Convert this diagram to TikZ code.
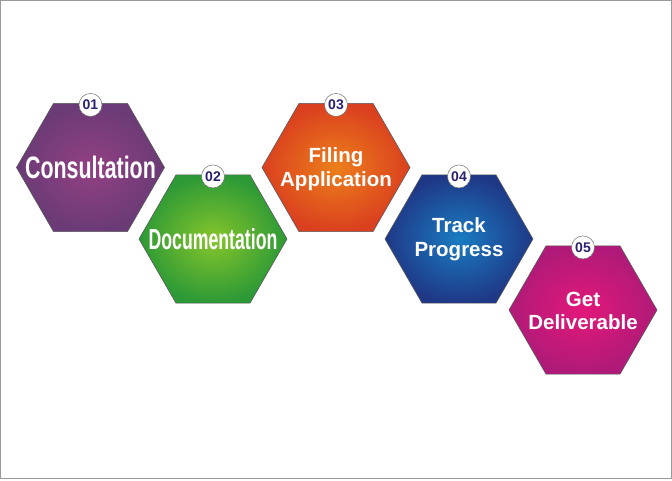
\documentclass[tikz,border=0pt]{standalone}
\usepackage{fontspec}
\setmainfont{Liberation Sans}
\usetikzlibrary{shapes.geometric}
\definecolor{numnavy}{HTML}{2A2170}
\definecolor{p1in}{HTML}{934083}
\definecolor{p1out}{HTML}{6A3B76}
\definecolor{g2in}{HTML}{86C52B}
\definecolor{g2out}{HTML}{2C9936}
\definecolor{o3in}{HTML}{EC7F1B}
\definecolor{o3out}{HTML}{DA401F}
\definecolor{b4in}{HTML}{1A7CC2}
\definecolor{b4out}{HTML}{1F3886}
\definecolor{m5in}{HTML}{E2187A}
\definecolor{m5out}{HTML}{AF1A78}
\tikzset{
  hexbox/.style={regular polygon, regular polygon sides=6, minimum size=148pt,
    inner sep=0pt, outer sep=0pt, draw=black!65, line width=0.6pt},
  hextext/.style={text=white, font=\bfseries\fontsize{20.5}{23.5}\selectfont,
    align=center, inner sep=0pt},
  numcirc/.style={circle, fill=white, draw=black!55, line width=0.5pt,
    minimum size=23pt, inner sep=0pt, text=numnavy,
    font=\bfseries\fontsize{14}{14}\selectfont}
}
\begin{document}
\begin{tikzpicture}[x=1pt, y=-1pt]
\useasboundingbox (0,0) rectangle (672,480);
\draw[black!40, line width=1pt] (0.5,0.5) rectangle (671,478.5);
% hexagons
\node[hexbox, inner color=p1in, outer color=p1out] (h1) at (90.5,167.5) {};
\node[hexbox, inner color=g2in, outer color=g2out] (h2) at (213,239) {};
\node[hexbox, inner color=o3in, outer color=o3out] (h3) at (336,167.5) {};
\node[hexbox, inner color=b4in, outer color=b4out] (h4) at (459,239) {};
\node[hexbox, inner color=m5in, outer color=m5out] (h5) at (583,310) {};
% texts
\node[hextext] (t1) at (h1) {\scalebox{0.69}[1]{\fontsize{31}{31}\selectfont Consultation}};
\node[hextext] (t2) at (h2) {\scalebox{0.61}[1]{\fontsize{29}{29}\selectfont Documentation}};
\node[hextext] (t3) at ([yshift=-1.5pt]h3) {Filing\\Application};
\node[hextext] (t4) at (h4) {Track\\Progress};
\node[hextext] (t5) at ([yshift=-1pt]h5) {Get\\Deliverable};
% numbers
\node[numcirc] (n1) at ([yshift=-1.5pt]h1.north) {01};
\node[numcirc] (n2) at ([yshift=-1.5pt]h2.north) {02};
\node[numcirc] (n3) at ([yshift=-1.5pt]h3.north) {03};
\node[numcirc] (n4) at ([yshift=-1.5pt]h4.north) {04};
\node[numcirc] (n5) at ([yshift=-1.5pt]h5.north) {05};
\end{tikzpicture}
\end{document}
